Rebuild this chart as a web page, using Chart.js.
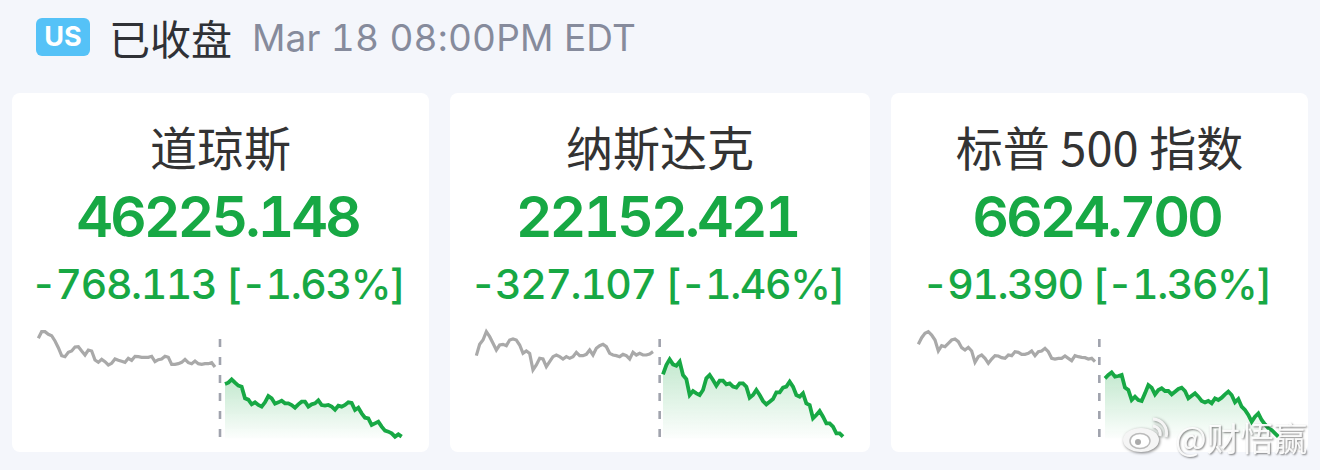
<!DOCTYPE html>
<html>
<head>
<meta charset="utf-8">
<script src="https://cdn.jsdelivr.net/npm/chart.js@4/dist/chart.umd.js"></script>
<style>
html, body { margin: 0; padding: 0; width: 1320px; height: 470px; overflow: hidden; background: #f4f6fb; font-family: Inter, "Noto Sans CJK SC", sans-serif; }
.abs { position: absolute; white-space: nowrap; }
.badge { left: 36px; top: 18px; width: 54px; height: 38px; border-radius: 6px; background: #55c2f7; color: #fff; font: 700 27px/38px Inter, sans-serif; text-align: center; }
.status { left: 109px; top: 10px; font: 400 41px/54px "Noto Sans CJK SC", sans-serif; color: #2f3136; }
.time { left: 252px; top: 15px; font: 400 37px/46px Inter, sans-serif; color: #868b9c; font-feature-settings: "tnum"; letter-spacing: 0.2px; }
.card { top: 93px; height: 359px; background: #fff; border-radius: 8px; }
.name, .last, .change { width: 100%; text-align: center; position: absolute; left: 0; }
.name { top: 22px; font: 400 47px/62px "Noto Sans CJK SC", sans-serif; color: #333; }
.last { top: 88px; left: -3px; font: 600 57px/72px Inter, sans-serif; color: #17a844; font-feature-settings: "tnum"; letter-spacing: -3.1px; }
.change { top: 166px; left: -3px; font: 500 41px/50px Inter, sans-serif; color: #17a844; font-feature-settings: "tnum"; letter-spacing: -1.4px; }
canvas { position: absolute; }
.mark { left: 1175px; top: 417px; font: 400 33.5px/40px "Noto Sans CJK SC", sans-serif; color: rgba(255,255,255,0.92); text-shadow: 1px 1px 2px rgba(0,0,0,0.5); }
</style>
</head>
<body>
<div class="abs badge">US</div>
<div class="abs status">已收盘</div>
<div class="abs time">Mar 18 08:00PM EDT</div>

<script>
const indexNames = ['道琼斯', '纳斯达克', '标普 500 指数'];
const lastValues = ['46225.148', '22152.421', '6624.700'];
const changes = ['-768.113 [-1.63%]', '-327.107 [-1.46%]', '-91.390 [-1.36%]'];

// heights, in 1/3 px above the bottom of the plot
const dowPrev = [320,340,340,332,328,312,292,268,265,278,282,294,295,282,270,285,282,255,248,257,250,240,245,258,254,251,248,260,254,266,265,263,263,263,266,250,256,258,266,263,242,242,244,248,257,247,244,252,244,242,244,244,247,234];
const dowToday = [183,187,197,187,178,175,140,136,122,128,120,115,128,147,140,124,128,133,125,125,120,112,122,130,130,115,122,125,134,120,118,120,115,106,118,115,120,128,126,105,112,95,82,80,60,65,70,55,43,40,35,25,32,25];
const nasdaqPrev = [268,302,315,340,325,305,285,300,302,298,315,318,315,300,275,282,275,225,240,260,258,235,250,265,270,265,258,265,260,265,278,268,268,272,285,270,290,298,302,295,275,270,268,265,272,268,258,278,270,275,270,270,273,280];
const nasdaqToday = [212,240,257,242,238,250,210,198,150,162,155,150,165,200,210,195,178,193,193,182,185,175,172,185,185,175,142,150,165,150,132,122,130,138,158,158,172,175,190,175,150,145,155,125,120,80,90,102,85,65,65,55,35,35,25];
const spxPrev = [302,322,335,340,330,315,282,298,295,305,315,318,310,292,285,293,282,248,265,270,260,245,258,268,267,262,260,270,268,280,278,272,272,275,282,268,280,282,290,280,260,258,260,260,267,260,253,268,265,263,262,258,260,250];
const spxToday = [200,210,218,205,207,210,172,165,135,145,135,132,155,180,172,152,165,170,162,162,152,160,168,172,162,140,148,155,145,132,128,132,125,140,135,142,152,160,150,128,138,115,105,90,70,85,95,75,62,50,45,35,25];

const cardLefts = [12, 450, 891];
const cardWidths = [417, 420, 417];
const canvasLefts = [20, 458, 900];
const splitAt = [54.5, 55, 54.3];   // where the dashed session line sits
const prevSeries = [dowPrev, nasdaqPrev, spxPrev];
const todaySeries = [dowToday, nasdaqToday, spxToday];

const GREEN = '#17a844';
const GREY = '#a9a9a9';

indexNames.forEach((name, i) => {
    const card = document.createElement('div');
    card.className = 'abs card';
    card.style.left = cardLefts[i] + 'px';
    card.style.width = cardWidths[i] + 'px';
    card.innerHTML = `<div class="name">${name}</div><div class="last">${lastValues[i]}</div><div class="change">${changes[i]}</div>`;
    document.body.appendChild(card);

    const canvas = document.createElement('canvas');
    canvas.style.left = canvasLefts[i] + 'px';
    canvas.style.top = '315px';
    canvas.style.width = '400px';
    canvas.style.height = '130px';
    canvas.width = 400;
    canvas.height = 130;
    document.body.appendChild(canvas);

    const prevPts = prevSeries[i].map((v, k) => ({ x: k, y: v }));
    const todayPts = todaySeries[i].map((v, k) => ({ x: k + 56, y: v }));
    const top = Math.max(...todaySeries[i]);

    new Chart(canvas.getContext('2d'), {
        type: 'line',
        data: {
            datasets: [
                { data: prevPts, borderColor: GREY, borderWidth: 3.2, pointRadius: 0, fill: false },
                {
                    data: todayPts,
                    borderColor: GREEN,
                    borderWidth: 3.8,
                    pointRadius: 0,
                    fill: { value: 20 },
                    backgroundColor: (ctx) => {
                        const { chart } = ctx;
                        if (!chart.chartArea) return 'transparent';
                        const g = chart.ctx.createLinearGradient(0, chart.scales.y.getPixelForValue(top), 0, chart.scales.y.getPixelForValue(20));
                        g.addColorStop(0, 'rgba(23,168,68,0.26)');
                        g.addColorStop(1, 'rgba(23,168,68,0.01)');
                        return g;
                    }
                },
                {
                    data: [{ x: splitAt[i], y: 318 }, { x: splitAt[i], y: 20 }],
                    borderColor: '#a0a3ad',
                    borderWidth: 2.6,
                    borderDash: [8, 10],
                    pointRadius: 0,
                    fill: false
                }
            ]
        },
        options: {
            responsive: false,
            animation: false,
            parsing: false,
            layout: { padding: 0 },
            plugins: { legend: { display: false }, tooltip: { enabled: false } },
            scales: {
                x: { type: 'linear', display: false, min: -5.5, max: 114.5 },
                y: { type: 'linear', display: false, min: 0, max: 390 }
            }
        }
    });
});
</script>

<svg class="abs" style="left:1120px;top:416px;filter:drop-shadow(1px 1px 1.5px rgba(0,0,0,0.5))" width="52" height="38" viewBox="0 0 52 38">
  <ellipse cx="21" cy="24" rx="18" ry="12" fill="#f5f5f5"/>
  <ellipse cx="20" cy="25" rx="10" ry="7.5" fill="#fff" stroke="#bbb" stroke-width="1.5"/>
  <circle cx="18" cy="26" r="3" fill="#aaa"/>
  <path d="M33 10 a8 8 0 0 1 7 10" fill="none" stroke="#f5f5f5" stroke-width="3"/>
  <path d="M33 3 a14 14 0 0 1 13 18" fill="none" stroke="#f5f5f5" stroke-width="3"/>
</svg>
<div class="abs mark">@财悟赢</div>
</body>
</html>
